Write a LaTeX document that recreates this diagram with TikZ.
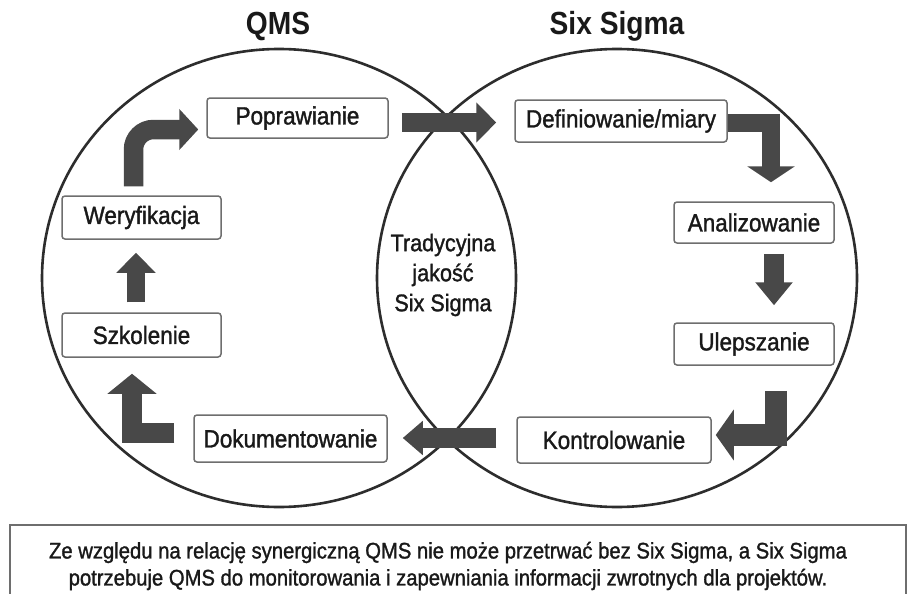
\documentclass[tikz,border=0pt]{standalone}
\usepackage{fontspec}
\setmainfont{Liberation Sans}
\newfontfamily\stagefont{Liberation Sans}[FakeStretch=0.9, FakeBold=1.3]
\usetikzlibrary{arrows.meta,calc}

\definecolor{inkgray}{RGB}{25,25,25}
\definecolor{ringgray}{RGB}{45,45,45}
\definecolor{boxgray}{RGB}{110,110,110}
\definecolor{flowgray}{RGB}{72,72,72}

\tikzset{
  stage/.style={draw=boxgray, line width=1.5pt, rounded corners=3pt, fill=white,
    text=inkgray, inner sep=0pt, font=\stagefont\fontsize{25}{29}\selectfont},
  ring/.style={draw=ringgray, line width=2.6pt},
  flow/.style={draw=flowgray, line width=#1, line join=miter},
  flow/.default=20pt,
  title/.style={text=inkgray, font=\fontsize{32}{36}\selectfont\bfseries},
  note/.style={text=inkgray, font=\stagefont\fontsize{22.5}{27}\selectfont, align=center},
}

\begin{document}
\begin{tikzpicture}[x=1pt, y=-1pt]
\useasboundingbox (0,0) rectangle (908,594);
\fill[white] (0,0) rectangle (908,594);

% the two overlapping circles
\draw[ring] (279,278) ellipse [x radius=237, y radius=229];
\draw[ring] (617,278) ellipse [x radius=240, y radius=229];

% headings
\node[title] (qms) at (278,26) {\scalebox{0.88}[1]{QMS}};
\node[title] (six) at (617,26) {\scalebox{0.88}[1]{Six Sigma}};

% QMS cycle
\node[stage, minimum width=181pt, minimum height=40pt] (pop) at (297.5,118) {Poprawianie};
\node[stage, minimum width=159pt, minimum height=43pt] (wer) at (141.5,217.5) {Weryfikacja};
\node[stage, minimum width=159pt, minimum height=44pt] (szk) at (141.5,335) {Szkolenie};
\node[stage, minimum width=193pt, minimum height=47pt] (dok) at (290.5,438.5) {Dokumentowanie};

% Six Sigma cycle
\node[stage, minimum width=212pt, minimum height=42pt] (def) at (621,121) {Definiowanie/miary};
\node[stage, minimum width=160pt, minimum height=41pt] (ana) at (754,222.5) {Analizowanie};
\node[stage, minimum width=160pt, minimum height=42pt] (ule) at (754,344) {Ulepszanie};
\node[stage, minimum width=194pt, minimum height=46pt] (kon) at (614,440) {Kontrolowanie};

% overlap label
\node[note, font=\stagefont\fontsize{24}{30}\selectfont] (mid) at (443,275) {Tradycyjna\\jakość\\Six Sigma};

% block arrows between the stages
\draw[flow=19.5pt, rounded corners=20pt, -{Triangle[width=40pt,length=19pt]}]
  ($(wer.north)+(-8,-9)$) |- ($(pop.west)+(-8,11.5)$);
\draw[flow=19pt, -{Triangle[width=39pt,length=20pt]}]
  ($(pop.east)+(13,4.5)$) -- ($(def.west)+(-18,1.5)$);
\draw[flow=18pt, -{Triangle[width=47pt,length=16pt]}]
  ($(def.east)+(0,2)$) -| ($(ana.north)+(17,-19)$);
\draw[flow=20pt, -{Triangle[width=36pt,length=23pt]}]
  ($(ana.south)+(20,10)$) -- ($(ule.north)+(20,-17)$);
\draw[flow=22pt, -{Triangle[width=50pt,length=18pt]}]
  ($(ule.south)+(21.5,25)$) |- ($(kon.east)+(4,-5)$);
\draw[flow=20pt, -{Triangle[width=33pt,length=20pt]}]
  ($(kon.west)+(-20,-2)$) -- ($(dok.east)+(15,-0.5)$);
\draw[flow=20pt, -{Triangle[width=48pt,length=20pt]}]
  ($(dok.west)+(-19,-5.5)$) -| ($(szk.south)+(-9.5,16)$);
\draw[flow=18pt, -{Triangle[width=38pt,length=20pt]}]
  ($(szk.north)+(-5.5,-10)$) -- ($(wer.south)+(-5.5,13)$);

% caption box
\draw[draw=boxgray, line width=1.5pt] (10,610) -- (10,525) -- (906,525) -- (906,610);
\node[note] (cap) at (448,566) {Ze względu na relację synergiczną QMS nie może przetrwać bez Six Sigma, a Six Sigma\\potrzebuje QMS do monitorowania i zapewniania informacji zwrotnych dla projektów.};
\end{tikzpicture}
\end{document}
